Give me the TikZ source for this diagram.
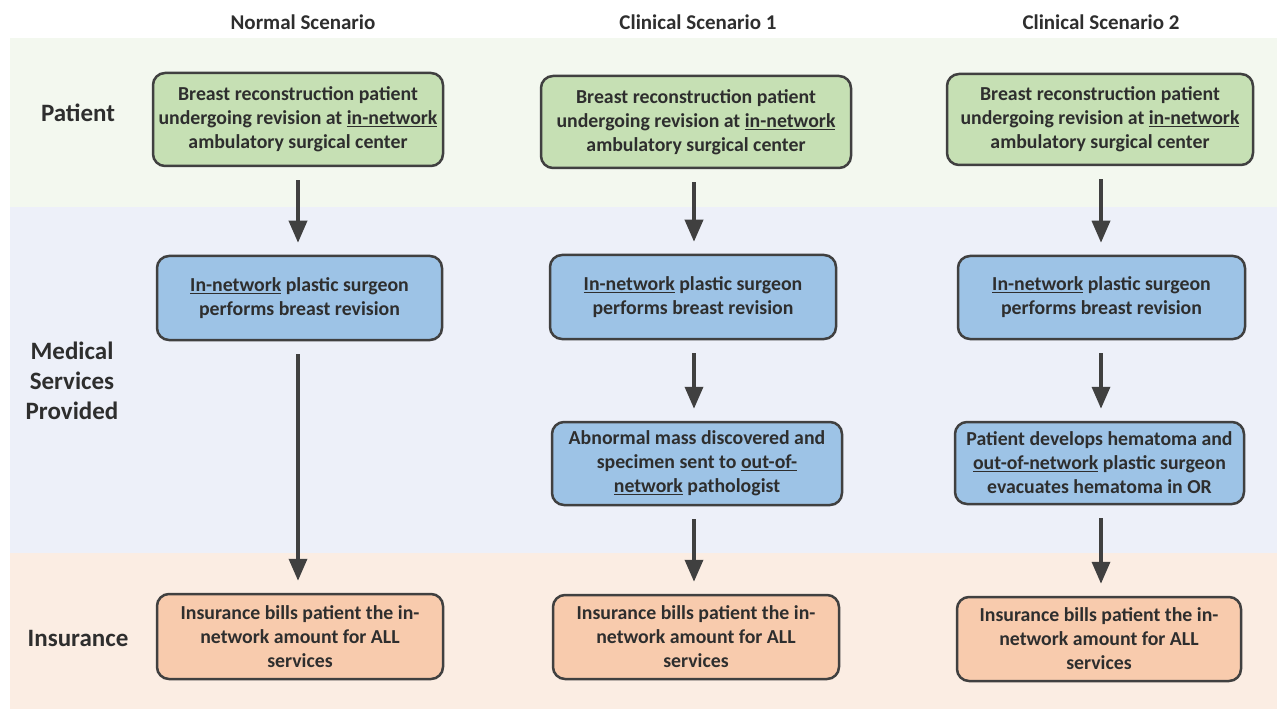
\documentclass[tikz,border=0pt]{standalone}
\usepackage{fontspec}
\setmainfont{Carlito}
\usetikzlibrary{arrows.meta}
\definecolor{gband}{HTML}{F3F8EF}
\definecolor{bband}{HTML}{EDF0F9}
\definecolor{oband}{HTML}{FBEDE3}
\definecolor{gfill}{HTML}{C6E0B4}
\definecolor{bfill}{HTML}{9DC3E6}
\definecolor{ofill}{HTML}{F8CBAD}
\definecolor{linecol}{HTML}{404040}
\definecolor{textcol}{HTML}{2E2E2E}
\tikzset{
  box/.style={draw=linecol, line width=2.5pt, rounded corners=12pt, align=center,
    font=\bfseries\fontsize{19.8}{24}\selectfont, text=textcol, inner sep=0pt},
  gbox/.style={box, fill=gfill},
  bbox/.style={box, fill=bfill},
  obox/.style={box, fill=ofill},
  head/.style={font=\bfseries\fontsize{21}{24}\selectfont, text=textcol},
  rowlabel/.style={font=\bfseries\fontsize{25}{30}\selectfont, text=textcol, align=center},
  flow/.style={draw=linecol, line width=3.5pt, -{Triangle[width=18pt,length=22pt]},
    shorten >=12pt, shorten <=13pt}
}
\begin{document}
\begin{tikzpicture}[x=1pt,y=-1pt]
\useasboundingbox (0,0) rectangle (1277,711);
\fill[white] (0,0) rectangle (1277,711);
% background bands
\fill[gband] (10,38) rectangle (1277,207);
\fill[bband] (10,207) rectangle (1277,553);
\fill[oband] (10,553) rectangle (1277,709);

% column headings
\node[head] (h1) at (303,22) {Normal Scenario};
\node[head] (h2) at (698,22) {Clinical Scenario 1};
\node[head] (h3) at (1101,22) {Clinical Scenario 2};

% row labels
\node[rowlabel] (r1) at (78,113) {Patient};
\node[rowlabel] (r2) at (72,381) {Medical\\Services\\Provided};
\node[rowlabel] (r3) at (78,638) {Insurance};

% normal scenario
\node[gbox, minimum width=290pt, minimum height=93pt] (a1) at (298,119.5)
  {Breast reconstruction patient\\undergoing revision at \underline{in-network}\\ambulatory surgical center};
\node[bbox, minimum width=285pt, minimum height=84pt] (a2) at (299.5,298)
  {\underline{In-network} plastic surgeon\\performs breast revision};
\node[obox, minimum width=286pt, minimum height=85pt] (a3) at (300,636.5)
  {Insurance bills patient the in-\\network amount for ALL\\services};

% clinical scenario 1
\node[gbox, minimum width=310pt, minimum height=92pt] (b1) at (696,122)
  {Breast reconstruction patient\\undergoing revision at \underline{in-network}\\ambulatory surgical center};
\node[bbox, minimum width=286pt, minimum height=84pt] (b2) at (693,297)
  {\underline{In-network} plastic surgeon\\performs breast revision};
\node[bbox, minimum width=290pt, minimum height=83pt] (b3) at (697,463.5)
  {Abnormal mass discovered and\\specimen sent to \underline{out-of-}\\\underline{network} pathologist};
\node[obox, minimum width=286pt, minimum height=84pt] (b4) at (696,637)
  {Insurance bills patient the in-\\network amount for ALL\\services};

% clinical scenario 2
\node[gbox, minimum width=306pt, minimum height=91pt] (c1) at (1100,119.5)
  {Breast reconstruction patient\\undergoing revision at \underline{in-network}\\ambulatory surgical center};
\node[bbox, minimum width=287pt, minimum height=83pt] (c2) at (1101.5,297.5)
  {\underline{In-network} plastic surgeon\\performs breast revision};
\node[bbox, minimum width=289pt, minimum height=82pt] (c3) at (1099.5,463)
  {Patient develops hematoma and\\\underline{out-of-network} plastic surgeon\\evacuates hematoma in OR};
\node[obox, minimum width=284pt, minimum height=84pt] (c4) at (1099,639)
  {Insurance bills patient the in-\\network amount for ALL\\services};

% connectors
\coordinate (x1) at (298,0);
\coordinate (x2) at (694,0);
\coordinate (x3) at (1101,0);
\draw[flow] (x1 |- a1.south) -- (x1 |- a2.north);
\draw[flow] (x1 |- a2.south) -- (x1 |- a3.north);
\draw[flow] (x2 |- b1.south) -- (x2 |- b2.north);
\draw[flow] (x2 |- b2.south) -- (x2 |- b3.north);
\draw[flow] (x2 |- b3.south) -- (x2 |- b4.north);
\draw[flow] (x3 |- c1.south) -- (x3 |- c2.north);
\draw[flow] (x3 |- c2.south) -- (x3 |- c3.north);
\draw[flow] (x3 |- c3.south) -- (x3 |- c4.north);
\end{tikzpicture}
\end{document}
